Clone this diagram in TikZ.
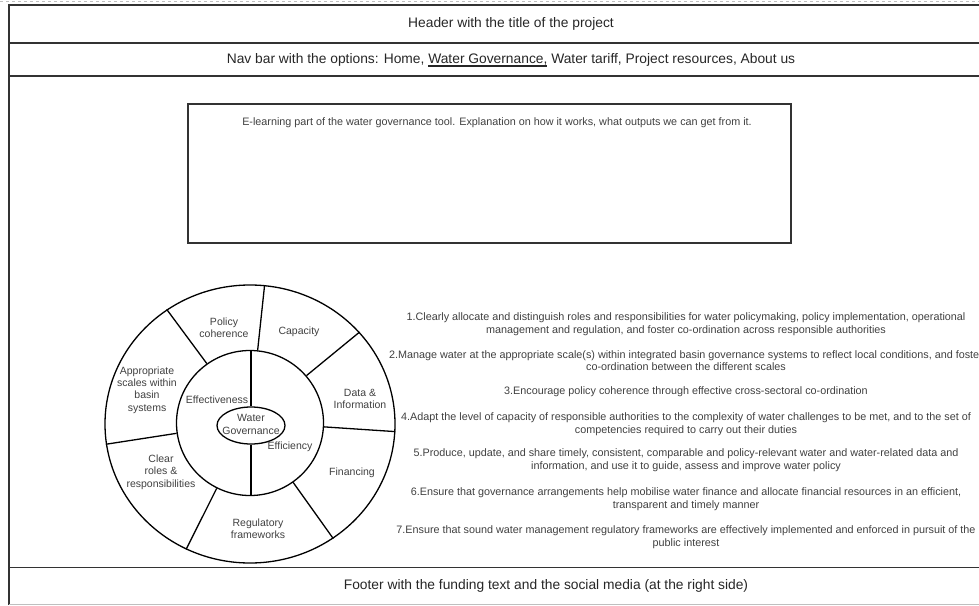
\documentclass[tikz,border=0pt]{standalone}
\usepackage{fontspec}
\setmainfont{Liberation Sans}
\newcommand\ulwg[1]{\setbox0\hbox{#1}\rlap{\rule[-3pt]{\wd0}{1.4pt}}\box0\relax}
\usetikzlibrary{shapes.geometric}

\begin{document}
\begin{tikzpicture}[x=1pt,y=-1pt,
  frame/.style={draw=black!80,line width=1.8pt},
  bar/.style={font=\fontsize{13.8}{16}\selectfont,text=black!85},
  item/.style={font=\fontsize{10.8}{12.5}\selectfont,text=black!75,align=center,inner sep=0pt},
  part/.style={font=\fontsize{10.5}{12.4}\selectfont,text=black!75,align=center,inner sep=0pt},
  ring/.style={draw,ellipse,line width=1.3pt,inner sep=0pt}]
  \useasboundingbox (0,0) rectangle (979,605);
  % page frame
  \draw[black!25,dashed,line width=1.2pt] (0,1.5) -- (979,1.5);
  \draw[frame] (979,5) -- (9,5) -- (9,605);
  \draw[frame] (9,43) -- (979,43);
  \draw[frame] (9,76) -- (979,76);
  \draw[frame] (9,567.5) -- (979,567.5);
  \draw[black!25,line width=1pt] (9,604) -- (979,604);
  \node[bar] (head) at (511,24) {Header with the title of the project};
  \node[bar] (nav) at (511,60) {Nav bar with the options: Home, \ulwg{Water Governance,} Water tariff, Project resources, About us};
  \node[bar] (foot) at (546,586) {Footer with the funding text and the social media (at the right side)};
  % e-learning box
  \draw[frame] (188,104) rectangle (791,243);
  \node[item] (intro) at (497,123) {E-learning part of the water governance tool. Explanation on how it works, what outputs we can get from it.};
  % governance wheel
  \node[ring,minimum width=290pt,minimum height=278pt] (outer) at (250,424) {};
  \node[ring,minimum width=147pt,minimum height=145pt] (inner) at (250,423) {};
  \node[ring,minimum width=68pt,minimum height=37pt] (wg) at (251,425.5) {};
  \foreach \a in {84,40,-3,-54,-117,188,126}
    \draw[line width=1.3pt] (inner.\a) -- (outer.\a);
  \draw[line width=1.3pt] (wg.north) -- (wg.north |- inner.north);
  \draw[line width=1.3pt] (wg.south) -- (wg.south |- inner.south);
  \node[part] (wgl) at (251,424.5) {Water\\Governance};
  \node[part] (eff) at (217,400) {Effectiveness};
  \node[part] (efc) at (290,447) {Efficiency};
  \node[part] (pol) at (224,328) {Policy\\coherence};
  \node[part] (cap) at (299,332) {Capacity};
  \node[part] (dat) at (360,399) {Data \&\\Information};
  \node[part] (fin) at (352,473) {Financing};
  \node[part] (reg) at (258,529) {Regulatory\\frameworks};
  \node[part] (clr) at (161,472) {Clear\\roles \&\\responsibilities};
  \node[part] (app) at (147,390) {Appropriate\\scales within\\basin\\systems};
  % principles
  \node[item] (it1) at (686,324) {1.Clearly allocate and distinguish roles and responsibilities for water policymaking, policy implementation, operational\\management and regulation, and foster co-ordination across responsible authorities};
  \node[item] (it2) at (686,360.5) {2.Manage water at the appropriate scale(s) within integrated basin governance systems to reflect local conditions, and foster\\co-ordination between the different scales};
  \node[item] (it3) at (686,391.5) {3.Encourage policy coherence through effective cross-sectoral co-ordination};
  \node[item] (it4) at (686,424) {4.Adapt the level of capacity of responsible authorities to the complexity of water challenges to be met, and to the set of\\competencies required to carry out their duties};
  \node[item] (it5) at (686,460) {5.Produce, update, and share timely, consistent, comparable and policy-relevant water and water-related data and\\information, and use it to guide, assess and improve water policy};
  \node[item] (it6) at (686,499) {6.Ensure that governance arrangements help mobilise water finance and allocate financial resources in an efficient,\\transparent and timely manner};
  \node[item] (it7) at (686,537) {7.Ensure that sound water management regulatory frameworks are effectively implemented and enforced in pursuit of the\\public interest};
\end{tikzpicture}
\end{document}
